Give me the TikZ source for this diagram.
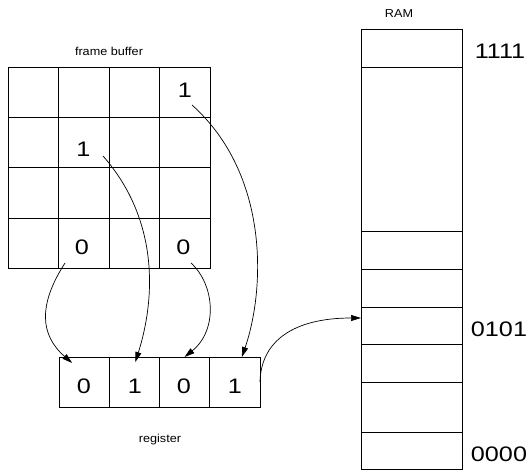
\documentclass[tikz,border=0pt]{standalone}
\usepackage{graphicx}
\usepackage{fontspec}
\setmainfont{Liberation Sans}
\usetikzlibrary{arrows.meta}
% digits are set a little wider than the plain face
\newcommand\widebits[1]{\scalebox{1.2}[1]{#1}}

\begin{document}
\begin{tikzpicture}[x=1pt, y=-1pt,
  box/.style={draw, line width=0.8pt, rectangle, inner sep=0pt, outer sep=0pt},
  fbcell/.style={box, minimum width=50.4pt, minimum height=50.3pt},
  regcell/.style={box, minimum width=50.25pt, minimum height=50pt},
  ramcell/.style={box, minimum width=101pt},
  digit/.style={inner sep=0pt, font=\fontsize{21}{25}\selectfont},
  caption/.style={inner sep=0pt, font=\fontsize{11.5}{13}\selectfont},
  link/.style={line width=0.7pt, -{Triangle[length=10pt,width=6pt]}}
]
\useasboundingbox (0,0) rectangle (531,470);

% frame buffer: 4x4 grid of cells
\foreach \r in {0,...,3}
  \foreach \c in {0,...,3}
    \node[fbcell] (f\r\c) at ({8.3+50.4*(\c+0.5)}, {67.3+50.25*(\r+0.5)}) {};

% register: four cells in a row
\foreach \c in {0,...,3}
  \node[regcell] (r\c) at ({59+50.25*(\c+0.5)}, 382) {};

% RAM column, cells given by top/bottom edges
\foreach \i/\t/\b in {1/29/67, 2/67/231, 3/231/269, 4/269/307,
                      5/307/344, 6/344/382, 7/382/432, 8/432/469}
  \node[ramcell, minimum height={(\b-\t)*1pt}] (m\i) at (411.5, {(\t+\b)/2}) {};

% bits stored in the frame buffer
\node[digit] (d03) at (185,90.5) {\widebits{1}};
\node[digit] (d11) at (83.5,149) {\widebits{1}};
\node[digit] (d31) at (82,247) {\widebits{0}};
\node[digit] (d33) at (183.5,247) {\widebits{0}};

% bits in the register
\node[digit] (v0) at (84,386.5) {\widebits{0}};
\node[digit] (v1) at (135,386.5) {\widebits{1}};
\node[digit] (v2) at (184,386.5) {\widebits{0}};
\node[digit] (v3) at (235,386.5) {\widebits{1}};

% RAM addresses
\node[digit] (a1111) at (500,51) {\widebits{1111}};
\node[digit] (a0101) at (499,329.5) {\widebits{0101}};
\node[digit] (a0000) at (499,454) {\widebits{0000}};

% captions
\node[caption] (fbtitle) at (109,51) {\scalebox{1.1}[1]{frame buffer}};
\node[caption] (ramtitle) at (399,14) {\scalebox{1.1}[1]{RAM}};
\node[caption] (regtitle) at (160,440) {\scalebox{1.1}[1]{register}};

% bits gathered into the register
\draw[link] ([shift={(-17,16)}]d31.center) .. controls (38,305) and (40,335) .. ([shift={(-12,6)}]r0.north);
\draw[link] ([shift={(19.5,7)}]d11.center) .. controls (155,215) and (158,290) .. ([shift={(1,5)}]r1.north);
\draw[link] ([shift={(7.5,16)}]d33.center) .. controls (215,285) and (218,330) .. (r2.north);
\draw[link] ([shift={(7,14.5)}]d03.center) .. controls (270,175) and (265,290) .. ([shift={(7,0)}]r3.north);

% register value used as a RAM address
\draw[link] (r3.east) .. controls (261,340) and (295,318) .. ([shift={(0,-7.5)}]m5.west);
\end{tikzpicture}
\end{document}
